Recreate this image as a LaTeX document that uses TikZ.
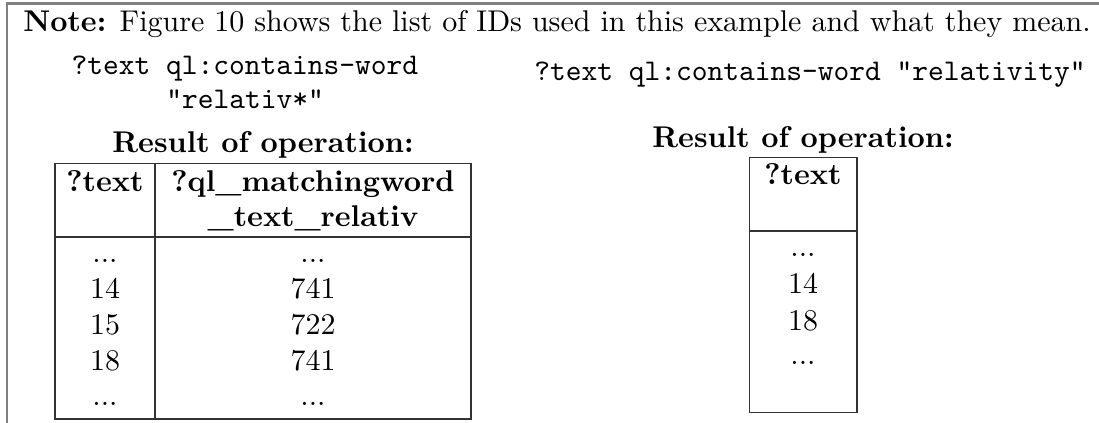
\documentclass[tikz,border=0pt]{standalone}
\usepackage{fontspec}
\tikzset{
  txt/.style={inner sep=0pt, anchor=base, font=\fontsize{10}{12}\selectfont},
  btxt/.style={inner sep=0pt, anchor=base, font=\fontsize{10}{12}\selectfont\bfseries},
  mono/.style={inner sep=0pt, anchor=base, font=\fontsize{10}{12}\selectfont\ttfamily},
  frameline/.style={draw=black!50, line width=0.67pt},
  tbl/.style={draw=black!80, line width=0.45pt},
}
\begin{document}
\begin{tikzpicture}[x=0.33333pt,y=-0.33333pt]
\useasboundingbox (0,0) rectangle (1099,423);
% frame
\coordinate (fbl) at (7,423);
\coordinate (ftl) at (7,3.5);
\coordinate (ftr) at (1099,3.5);
\draw[frameline] (fbl) -- (ftl) -- (ftr);
% note
\node[txt] (note) at (557,32) {\textbf{Note:} Figure 10 shows the list of IDs used in this example and what they mean.};
% queries
\node[mono] (q1a) at (245,75) {?text ql:contains-word};
\node[mono] (q1b) at (245,109) {"relativ*"};
\node[mono] (q2) at (810,81) {?text ql:contains-word "relativity"};
% result titles
\node[btxt] (r1) at (263,153) {Result of operation:};
\node[btxt] (r2) at (803,148) {Result of operation:};
% left table
\coordinate (ltl) at (55,163.5);
\coordinate (lbr) at (471,419);
\coordinate (ldt) at (155,163.5);
\coordinate (ldb) at (155,419);
\coordinate (lrl) at (55,237);
\coordinate (lrr) at (471,237);
\draw[tbl] (ltl) rectangle (lbr);
\draw[tbl] (ldt) -- (ldb);
\draw[tbl] (lrl) -- (lrr);
\node[btxt] (lh1) at (105,191) {?text};
\node[btxt] (lh2a) at (313,191) {?ql\_matchingword};
\node[btxt] (lh2b) at (313,227) {\_text\_relativ};
\node[txt] (la1) at (105,263) {...};
\node[txt] (la2) at (105,299) {14};
\node[txt] (la3) at (105,335) {15};
\node[txt] (la4) at (105,371) {18};
\node[txt] (la5) at (105,405) {...};
\node[txt] (lb1) at (313,263) {...};
\node[txt] (lb2) at (313,299) {741};
\node[txt] (lb3) at (313,335) {722};
\node[txt] (lb4) at (313,371) {741};
\node[txt] (lb5) at (313,405) {...};
% right table
\coordinate (rtl) at (749.5,157.5);
\coordinate (rbr) at (857,412.5);
\coordinate (rrl) at (749.5,231);
\coordinate (rrr) at (857,231);
\draw[tbl] (rtl) rectangle (rbr);
\draw[tbl] (rrl) -- (rrr);
\node[btxt] (rh1) at (803,185) {?text};
\node[txt] (ra1) at (803,257) {...};
\node[txt] (ra2) at (803,293) {14};
\node[txt] (ra3) at (803,330) {18};
\node[txt] (ra4) at (803,364) {...};
\end{tikzpicture}
\end{document}
